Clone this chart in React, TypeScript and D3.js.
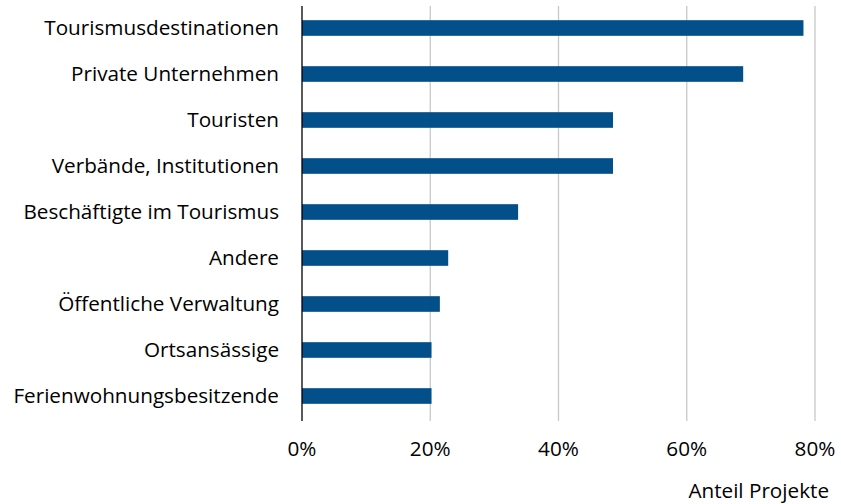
import React from "react";
import * as d3 from "d3";

const categories = [
  "Tourismusdestinationen",
  "Private Unternehmen",
  "Touristen",
  "Verbände, Institutionen",
  "Beschäftigte im Tourismus",
  "Andere",
  "Öffentliche Verwaltung",
  "Ortsansässige",
  "Ferienwohnungsbesitzende",
];
const values = [0.782, 0.688, 0.485, 0.485, 0.337, 0.228, 0.215, 0.202, 0.202];
const ticks = [0, 0.2, 0.4, 0.6, 0.8];
const axisTitle = "Anteil Projekte";

const W = 841;
const H = 504;
const FONT = "'Open Sans', sans-serif";
const FS = 20.7;

export default function App() {
  const x = d3.scaleLinear().domain([0, 0.8]).range([302, 815]);
  const y = d3.scaleBand().domain(categories).range([5, 419]).paddingInner(0.66).paddingOuter(0.33);
  const fmt = d3.format(".0%");
  return (
    <svg width={W} height={H} style={{ position: "absolute", left: 0, top: 0, background: "#fff" }}>
      {ticks.slice(1).map((t) => (
        <line key={t} x1={x(t)} x2={x(t)} y1={6} y2={421} stroke="#c8c8c8" strokeWidth={1.3} />
      ))}
      {categories.map((c, i) => (
        <rect key={c} x={x(0)} y={y(c)} width={x(values[i]) - x(0)} height={y.bandwidth()} fill="#034f8a" />
      ))}
      <line x1={x(0)} x2={x(0)} y1={6} y2={421} stroke="#000" strokeWidth={1.3} />
      {categories.map((c) => (
        <text key={c} x={279} y={(y(c) as number) + y.bandwidth() / 2 + 7} textAnchor="end"
          fontFamily={FONT} fontSize={FS} fill="#000">{c}</text>
      ))}
      {ticks.map((t) => (
        <text key={t} x={x(t)} y={456} textAnchor="middle" fontFamily={FONT} fontSize={FS} fill="#000">{fmt(t)}</text>
      ))}
      <text x={829} y={498} textAnchor="end" fontFamily={FONT} fontSize={FS} fill="#000">{axisTitle}</text>
    </svg>
  );
}
